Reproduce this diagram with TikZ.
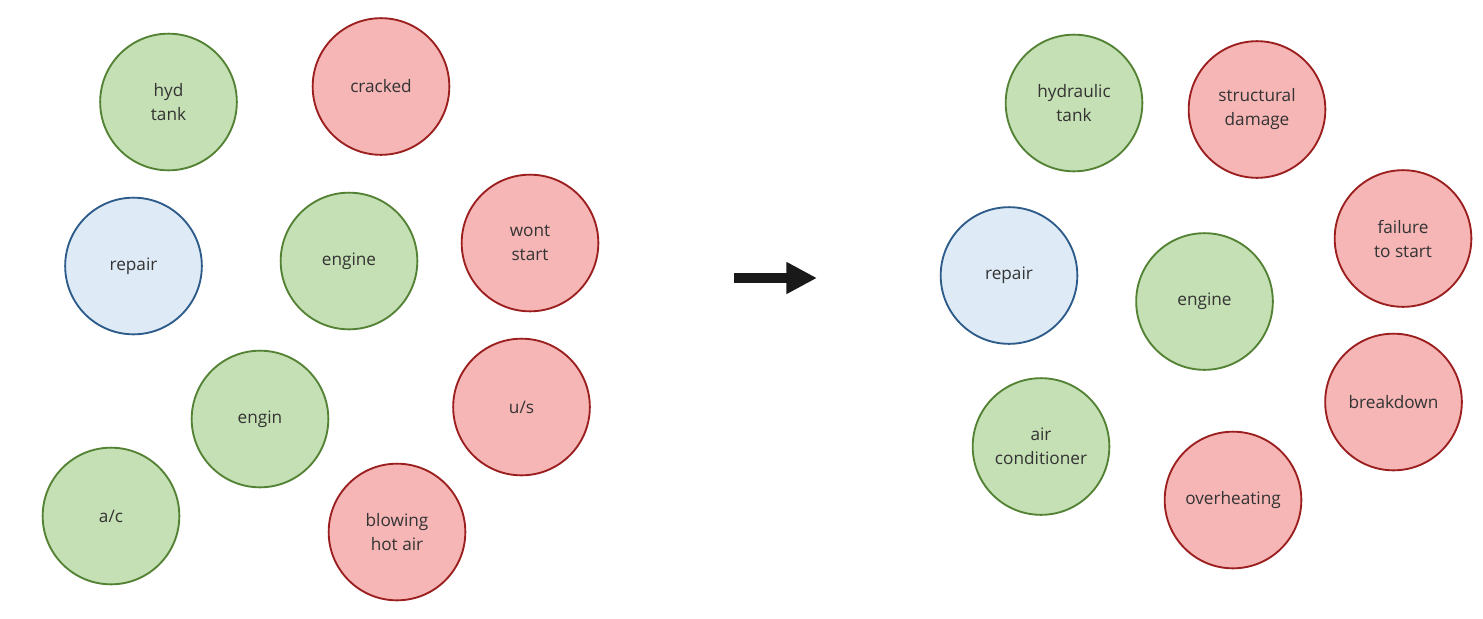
\documentclass[tikz,border=0pt]{standalone}
\usepackage{fontspec}
\setmainfont{Open Sans}
\usetikzlibrary{arrows.meta}

\definecolor{greenfill}{HTML}{C5E0B4}
\definecolor{greenline}{HTML}{548235}
\definecolor{redfill}{HTML}{F6B6B6}
\definecolor{redline}{HTML}{9C1F1F}
\definecolor{bluefill}{HTML}{DEEBF7}
\definecolor{blueline}{HTML}{2E5C8A}
\definecolor{labeltext}{HTML}{333333}

\begin{document}
\begin{tikzpicture}[line cap=round, line join=round, x=0.75pt, y=-0.75pt,
    term/.style={circle, minimum size=102.5pt, inner sep=0pt, line width=1.4pt,
                 align=center, text=labeltext, font=\fontsize{12.9}{18}\selectfont},
    goodterm/.style={term, draw=greenline, fill=greenfill},
    badterm/.style={term, draw=redline, fill=redfill},
    actterm/.style={term, draw=blueline, fill=bluefill}]
                \useasboundingbox (0, 0) rectangle (1483, 618);

                % Raw terms
                \node[goodterm] (hydtank) at (168.5, 102) {hyd\\tank};
                \node[badterm] (cracked) at (381, 86.5) {cracked};
                \node[actterm] (repairA) at (133.5, 266) {repair};
                \node[goodterm] (engineA) at (349, 261) {engine};
                \node[badterm] (wontstart) at (530, 243) {wont\\start};
                \node[goodterm] (engin) at (260, 419) {engin};
                \node[badterm] (us) at (521.5, 407) {u/s};
                \node[goodterm] (ac) at (111, 516) {a/c};
                \node[badterm] (hotair) at (397, 532) {blowing\\hot air};

                % Arrow
                \coordinate (from) at (734, 278);
                \coordinate (to) at (817, 278);
                \draw[line width=8pt, line cap=butt, color=black!90,
                      -{Triangle[length=23pt, width=22.5pt]}] (from) -- (to);

                % Clean terms
                \node[goodterm] (hydraulictank) at (1074, 103) {hydraulic\\tank};
                \node[badterm] (structdamage) at (1257, 109.5) {structural\\damage};
                \node[badterm] (failstart) at (1403, 238.5) {failure\\to start};
                \node[actterm] (repairB) at (1009, 275.5) {repair};
                \node[goodterm] (engineB) at (1204.5, 301.5) {engine};
                \node[badterm] (breakdown) at (1393.5, 402) {breakdown};
                \node[goodterm] (aircon) at (1041, 446.5) {air\\conditioner};
                \node[badterm] (overheat) at (1233, 500) {overheating};
            \end{tikzpicture}
\end{document}
